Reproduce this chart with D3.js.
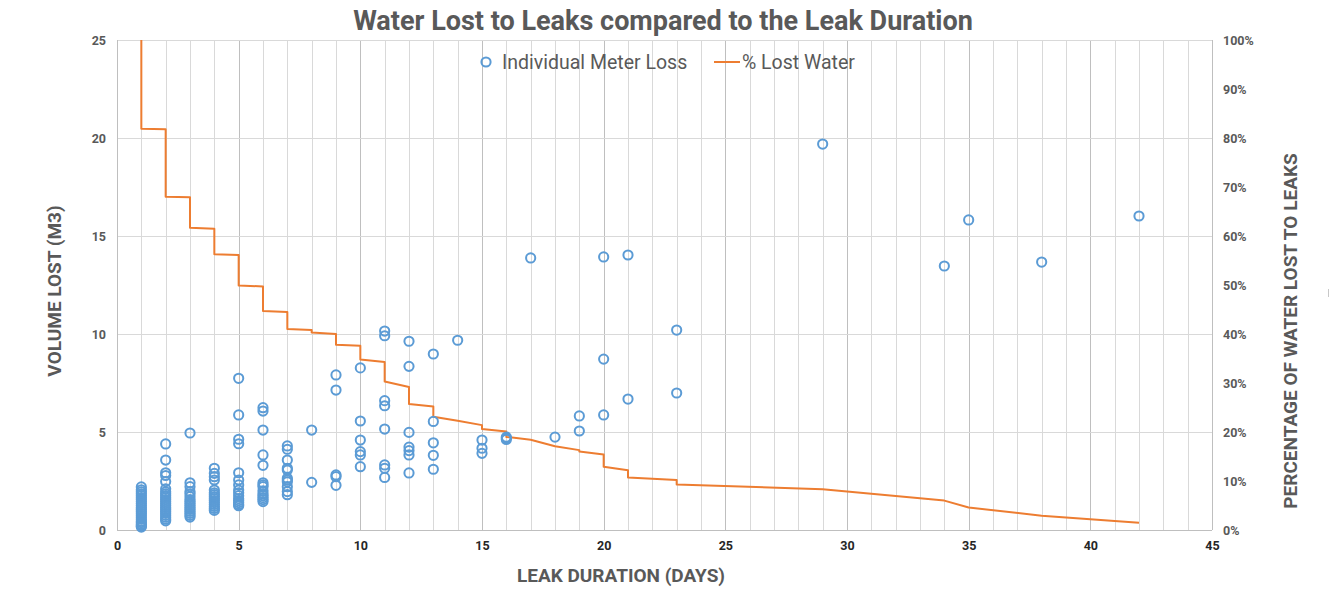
<!DOCTYPE html>
<html>
<head>
<meta charset="utf-8">
<script src="https://cdn.jsdelivr.net/npm/d3@7"></script>
<style>
  html, body { margin: 0; padding: 0; background: #fff; }
  svg text { font-family: Roboto, "Open Sans", sans-serif; }
</style>
</head>
<body>
<svg id="chart" width="1330" height="593"></svg>
<script>
// ---- data ----
const chartTitle = "Water Lost to Leaks compared to the Leak Duration";
const xTicks = [0, 5, 10, 15, 20, 25, 30, 35, 40, 45];
const yLeftTicks = [0, 5, 10, 15, 20, 25];
const yRightTicks = [0, 0.1, 0.2, 0.3, 0.4, 0.5, 0.6, 0.7, 0.8, 0.9, 1.0];

// Individual meter loss, grouped by leak duration (days)
const meterDays = [1, 2, 3, 4, 5, 6, 7, 8, 9, 10, 11, 12, 13, 14, 15, 16, 17, 18, 19, 20, 21, 23, 29, 34, 35, 38, 42];
const meterLoss = [
  [2.2, 2.05, 1.95, 1.85, 1.75, 1.65, 1.55, 1.45, 1.35, 1.25, 1.15, 1.05, 0.95, 0.85, 0.75, 0.65, 0.55, 0.45, 0.38, 0.3, 0.24, 0.19, 0.15],
  [4.39, 3.57, 2.92, 2.78, 2.47, 2.1, 1.95, 1.85, 1.75, 1.65, 1.55, 1.45, 1.35, 1.25, 1.15, 1.05, 0.95, 0.85, 0.75, 0.65, 0.55, 0.47],
  [4.95, 2.41, 2.21, 1.96, 1.85, 1.7, 1.55, 1.45, 1.35, 1.25, 1.15, 1.05, 0.95, 0.85, 0.75, 0.66],
  [3.15, 2.89, 2.72, 2.55, 2.04, 1.9, 1.8, 1.7, 1.6, 1.5, 1.4, 1.3, 1.2, 1.1, 1.0],
  [7.74, 5.87, 4.63, 4.4, 2.92, 2.55, 2.3, 2.04, 1.9, 1.75, 1.6, 1.5, 1.4, 1.3, 1.24],
  [6.24, 6.07, 5.1, 3.83, 3.3, 2.41, 2.3, 2.21, 2.0, 1.85, 1.75, 1.65, 1.55, 1.45],
  [4.29, 4.12, 3.57, 3.15, 3.06, 2.64, 2.55, 2.46, 2.21, 1.96, 1.8],
  [5.1, 2.43],
  [7.91, 7.14, 2.81, 2.72, 2.28],
  [8.27, 5.56, 4.59, 4.0, 3.83, 3.23],
  [10.15, 9.91, 6.6, 6.34, 5.15, 3.32, 3.15, 2.68],
  [9.63, 8.35, 4.98, 4.23, 4.05, 3.83, 2.91],
  [8.98, 5.54, 4.45, 3.81, 3.1],
  [9.68],
  [4.59, 4.17, 3.91],
  [4.74, 4.68, 4.62],
  [13.88],
  [4.74],
  [5.82, 5.05],
  [13.93, 8.72, 5.87],
  [14.03, 6.68],
  [10.2, 6.99],
  [19.69],
  [13.47],
  [15.82],
  [13.67],
  [16.02]
];

// % Lost Water line (duration, fraction)
const pctDays = [1, 1, 2, 2, 3, 3, 4, 4, 5, 5, 6, 6, 7, 7, 8, 8, 9, 9, 10, 10, 11, 11, 12, 12, 13, 13, 14, 15, 15, 16, 16, 17, 18, 19, 19, 20, 20, 21, 21, 23, 23, 29, 34, 35, 38, 42];
const pctLost = [1.0, 0.819, 0.818, 0.680, 0.679, 0.617, 0.615, 0.563, 0.561, 0.499, 0.497, 0.447, 0.445, 0.410, 0.408, 0.403, 0.400, 0.378, 0.376, 0.348, 0.343, 0.303, 0.292, 0.257, 0.252, 0.231, 0.223, 0.214, 0.206, 0.201, 0.190, 0.184, 0.171, 0.163, 0.160, 0.154, 0.129, 0.122, 0.107, 0.102, 0.093, 0.083, 0.060, 0.046, 0.029, 0.015];

// ---- layout ----
const svg = d3.select("#chart");
const pLeft = 117, pRight = 1212, pTop = 40, pBottom = 530;
const textColor = "#595959";
const blue = "#5B9BD5", orange = "#ED7D31";

const x = d3.scaleLinear().domain([0, 45]).range([pLeft, pRight]);
const yL = d3.scaleLinear().domain([0, 25]).range([pBottom, pTop]);
const yR = d3.scaleLinear().domain([0, 1]).range([pBottom, pTop]);

// gridlines
const g = svg.append("g");
g.selectAll("line.vminor").data(d3.range(1, 46).filter(d => d % 5 !== 0)).join("line")
  .attr("x1", d => Math.round(x(d)) + 0.5).attr("x2", d => Math.round(x(d)) + 0.5)
  .attr("y1", pTop).attr("y2", pBottom)
  .attr("stroke", "#d9d9d9").attr("stroke-width", 1);
g.selectAll("line.vmajor").data(xTicks.filter(d => d > 0)).join("line")
  .attr("x1", d => Math.round(x(d)) + 0.5).attr("x2", d => Math.round(x(d)) + 0.5)
  .attr("y1", pTop).attr("y2", pBottom)
  .attr("stroke", "#bfbfbf").attr("stroke-width", 1);
g.selectAll("line.h").data(yLeftTicks).join("line")
  .attr("x1", pLeft).attr("x2", pRight)
  .attr("y1", d => Math.round(yL(d)) + 0.5).attr("y2", d => Math.round(yL(d)) + 0.5)
  .attr("stroke", "#d9d9d9").attr("stroke-width", 1);
g.append("line").attr("x1", pLeft + 0.5).attr("x2", pLeft + 0.5).attr("y1", pTop).attr("y2", pBottom)
  .attr("stroke", "#bfbfbf");
g.append("line").attr("x1", pLeft).attr("x2", pRight).attr("y1", pBottom + 0.5).attr("y2", pBottom + 0.5)
  .attr("stroke", "#bfbfbf");

// axes (labels only)
const axB = svg.append("g").attr("transform", `translate(0,${pBottom})`)
  .call(d3.axisBottom(x).tickValues(xTicks).tickSize(0).tickPadding(11));
const axL = svg.append("g").attr("transform", `translate(${pLeft},0)`)
  .call(d3.axisLeft(yL).tickValues(yLeftTicks).tickSize(0).tickPadding(11));
const axR = svg.append("g").attr("transform", `translate(${pRight},0)`)
  .call(d3.axisRight(yR).tickValues(yRightTicks).tickFormat(d3.format(".0%")).tickSize(0).tickPadding(11));
[axB, axL, axR].forEach(a => {
  a.select(".domain").remove();
  a.selectAll("text").attr("fill", textColor).attr("font-size", 12.5).attr("font-weight", "bold")
    .style("font-family", "Roboto, sans-serif");
});
axB.selectAll("text").attr("fill", "#262626");

// line
const line = d3.line().x((d, i) => x(pctDays[i])).y((d, i) => yR(pctLost[i]));
svg.append("path").datum(pctLost).attr("d", line)
  .attr("fill", "none").attr("stroke", orange).attr("stroke-width", 2).attr("stroke-linejoin", "round");

// scatter
const pts = [];
meterDays.forEach((d, i) => meterLoss[i].forEach(v => pts.push([d, v])));
svg.append("g").selectAll("circle").data(pts).join("circle")
  .attr("cx", d => x(d[0])).attr("cy", d => yL(d[1])).attr("r", 4.6)
  .attr("fill", "none").attr("stroke", blue).attr("stroke-width", 2);

// title
svg.append("text").attr("x", 663).attr("y", 30).attr("text-anchor", "middle")
  .attr("font-size", 27).attr("font-weight", "bold").attr("fill", textColor)
  .text(chartTitle);

// axis titles
svg.append("text").attr("transform", "translate(61,291) rotate(-90)").attr("text-anchor", "middle")
  .attr("font-size", 19).attr("font-weight", "bold").attr("fill", textColor).text("VOLUME LOST (M3)");
svg.append("text").attr("transform", "translate(1297,331) rotate(-90)").attr("text-anchor", "middle")
  .attr("font-size", 19).attr("font-weight", "bold").attr("fill", textColor).text("PERCENTAGE OF WATER LOST TO LEAKS");
svg.append("text").attr("x", 621).attr("y", 582).attr("text-anchor", "middle")
  .attr("font-size", 19).attr("font-weight", "bold").attr("fill", textColor).text("LEAK DURATION (DAYS)");

// small mark at right edge seen in the original
svg.append("line").attr("x1", 1328.5).attr("x2", 1328.5).attr("y1", 289).attr("y2", 297)
  .attr("stroke", "#c8c8c8").attr("stroke-width", 1);

// legend
const lg = svg.append("g");
lg.append("circle").attr("cx", 486).attr("cy", 62).attr("r", 4.6)
  .attr("fill", "none").attr("stroke", blue).attr("stroke-width", 2);
lg.append("text").attr("x", 502).attr("y", 68.5).attr("font-size", 19.5).attr("fill", textColor).text("Individual Meter Loss");
lg.append("line").attr("x1", 714).attr("x2", 740).attr("y1", 62).attr("y2", 62)
  .attr("stroke", orange).attr("stroke-width", 2);
lg.append("text").attr("x", 742).attr("y", 68.5).attr("font-size", 19.5).attr("fill", textColor).text("% Lost Water");
</script>
</body>
</html>
